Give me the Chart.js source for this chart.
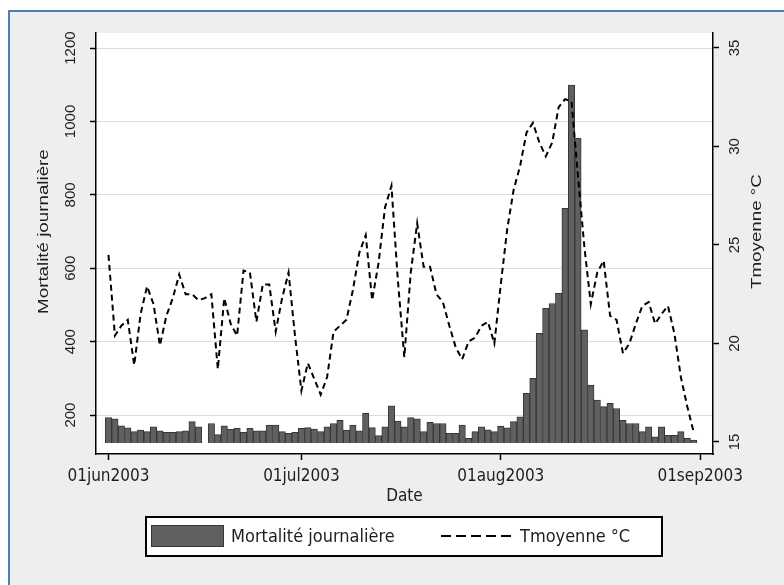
<!DOCTYPE html>
<html>
<head>
<meta charset="utf-8">
<script src="https://cdn.jsdelivr.net/npm/chart.js@4.4.1/dist/chart.umd.min.js"></script>
<style>
  html, body { margin: 0; padding: 0; background: #fff; overflow: hidden; }
  #frame {
    position: absolute; left: 8px; top: 10px; width: 774px; height: 573px;
    background: #eceef0; border-left: 2px solid #4f80b2; border-top: 2px solid #4f80b2;
  }
  #wrap { position: absolute; left: 0; top: 0; width: 784px; height: 585px; }
</style>
</head>
<body>
<div id="frame"></div>
<div id="wrap"><canvas id="chart" width="784" height="585"></canvas></div>
<script>
// daily deaths, 01jun2003 .. 31aug2003 (day 15 missing)
const mortality = [
  193, 190, 171, 165, 155, 159, 155, 168, 157, 153,
  153, 155, 157, 182, 168, null, 177, 147, 171, 161,
  164, 153, 164, 157, 157, 173, 173, 155, 150, 153,
  164, 166, 162, 155, 168, 177, 186, 159, 173, 157,
  205, 166, 144, 168, 225, 184, 168, 193, 190, 155,
  180, 177, 177, 150, 150, 173, 137, 155, 168, 160,
  155, 170, 165, 182, 195, 259, 300, 423, 491, 504,
  532, 763, 1099, 954, 432, 282, 241, 223, 232, 218,
  186, 177, 177, 155, 168, 141, 168, 145, 145, 155,
  137, 132
];
// mean daily temperature (°C)
const tempMean = [
  24.5, 20.4, 20.9, 21.2, 18.9, 21.5, 22.9, 22.0, 19.9, 21.4,
  22.3, 23.5, 22.5, 22.5, 22.2, 22.3, 22.5, 18.7, 22.3, 21.0,
  20.4, 23.7, 23.6, 21.1, 23.0, 23.0, 20.6, 22.3, 23.6, 20.4,
  17.6, 19.0, 18.2, 17.4, 18.3, 20.6, 20.9, 21.2, 22.7, 24.6,
  25.5, 22.2, 24.1, 26.9, 28.0, 23.2, 19.3, 23.6, 26.1, 23.9,
  23.9, 22.5, 22.1, 20.9, 19.8, 19.2, 20.1, 20.3, 20.9, 21.1,
  20.0, 23.0, 25.8, 27.8, 29.0, 30.7, 31.2, 30.2, 29.5, 30.2,
  32.0, 32.4, 32.3, 28.5, 24.9, 22.0, 23.6, 24.2, 21.4, 21.2,
  19.5, 20.0, 21.0, 21.9, 22.1, 21.0, 21.5, 21.9, 20.5, 18.3,
  16.8, 15.5
];
const dateTickDays = [0, 30, 61, 92];
const dateTickLabels = ['01jun2003', '01jul2003', '01aug2003', '01sep2003'];
const mortTicks = [200, 400, 600, 800, 1000, 1200];
const tempTicks = [15, 20, 25, 30, 35];

const condensed = "'DejaVu Sans Condensed', 'Liberation Sans Narrow', sans-serif";
const arial = "'Liberation Sans', Arial, sans-serif";
const ink = '#1e1e1e';

// draws the stata-like bits: white plot region, rotated labels, titles, legend box
const stataDecor = {
  id: 'stataDecor',
  beforeDraw(chart) {
    const { ctx, chartArea: a } = chart;
    ctx.save();
    ctx.fillStyle = '#fff';
    ctx.fillRect(a.left, a.top, a.right - a.left, a.bottom - a.top);
    ctx.restore();
  },
  afterDraw(chart) {
    const { ctx, chartArea: a } = chart;
    const yL = chart.scales.y, yR = chart.scales.yT;
    ctx.save();
    ctx.fillStyle = ink;
    ctx.textAlign = 'center';
    ctx.textBaseline = 'middle';

    const vtext = (txt, x, y, stretch) => {
      ctx.save();
      ctx.translate(x, y);
      ctx.rotate(-Math.PI / 2);
      ctx.scale(stretch, 1);
      ctx.fillText(txt, 0, 0);
      ctx.restore();
    };

    ctx.font = '15px ' + arial;
    mortTicks.forEach(v => vtext(String(v), 71, yL.getPixelForValue(v), 1));
    tempTicks.forEach(v => vtext(String(v), 735, yR.getPixelForValue(v), 1));

    const mid = (yL.getPixelForValue(200) + yL.getPixelForValue(1200)) / 2;
    vtext('Mortalité journalière', 44, mid, 1.25);
    vtext('Tmoyenne °C', 757, mid, 1.25);

    ctx.font = '17px ' + condensed;
    ctx.fillText('Date', (a.left + a.right) / 2, 497);

    // legend
    const ds = chart.data.datasets;
    ctx.fillStyle = '#fff';
    ctx.fillRect(146, 517, 516, 39);
    ctx.strokeStyle = '#000';
    ctx.lineWidth = 2;
    ctx.strokeRect(146, 517, 516, 39);

    ctx.fillStyle = ds[0].backgroundColor;
    ctx.fillRect(151, 525, 73, 22);
    ctx.strokeStyle = ds[0].borderColor;
    ctx.lineWidth = 1;
    ctx.strokeRect(151.5, 525.5, 72, 21);

    ctx.strokeStyle = ds[1].borderColor;
    ctx.lineWidth = 2;
    ctx.setLineDash([10, 5]);
    ctx.beginPath();
    ctx.moveTo(441, 536);
    ctx.lineTo(513, 536);
    ctx.stroke();
    ctx.setLineDash([]);

    ctx.fillStyle = ink;
    ctx.textAlign = 'left';
    ctx.font = '18px ' + condensed;
    ctx.fillText(ds[0].label, 231, 537);
    ctx.fillText(ds[1].label, 520, 537);
    ctx.restore();
  }
};

new Chart(document.getElementById('chart'), {
  type: 'bar',
  data: {
    datasets: [
      {
        type: 'bar',
        label: 'Mortalité journalière',
        data: mortality.map((v, i) => ({ x: i, y: v })),
        yAxisID: 'y',
        base: 124,
        backgroundColor: '#606060',
        borderColor: '#363636',
        borderWidth: 1,
        barPercentage: 1,
        categoryPercentage: 1,
        order: 2
      },
      {
        type: 'line',
        label: 'Tmoyenne °C',
        data: tempMean.map((v, i) => ({ x: i, y: v })),
        yAxisID: 'yT',
        borderColor: '#000',
        borderWidth: 2,
        borderDash: [6, 4],
        pointRadius: 0,
        tension: 0,
        fill: false,
        order: 1
      }
    ]
  },
  options: {
    responsive: false,
    animation: false,
    layout: { padding: { top: 33, left: 0, right: 0, bottom: 0 } },
    plugins: { legend: { display: false }, tooltip: { enabled: false } },
    scales: {
      x: {
        type: 'linear',
        min: -1.94,
        max: 94.0,
        offset: false,
        afterBuildTicks: s => { s.ticks = dateTickDays.map(v => ({ value: v })); },
        afterFit: s => { s.height = 131; },
        ticks: {
          autoSkip: false,
          maxRotation: 0,
          padding: 6,
          color: ink,
          font: { family: condensed, size: 17 },
          callback: v => dateTickLabels[dateTickDays.indexOf(v)]
        },
        grid: { offset: false, drawOnChartArea: false, tickLength: 6, tickColor: '#000', tickWidth: 1.5 },
        border: { color: '#000', width: 1.5 }
      },
      y: {
        position: 'left',
        min: 94,
        max: 1241,
        afterBuildTicks: s => { s.ticks = mortTicks.map(v => ({ value: v })); },
        afterFit: s => { s.width = 96; },
        ticks: { display: false },
        grid: { color: '#e6d9d2', lineWidth: 1, tickLength: 6, tickColor: '#000', tickWidth: 1.5 },
        border: { color: '#000', width: 1.5 }
      },
      yT: {
        position: 'right',
        min: 14.39,
        max: 35.76,
        afterBuildTicks: s => { s.ticks = tempTicks.map(v => ({ value: v })); },
        afterFit: s => { s.width = 71; },
        ticks: { display: false },
        grid: { drawOnChartArea: false, tickLength: 6, tickColor: '#000', tickWidth: 1.5 },
        border: { color: '#000', width: 1.5 }
      }
    }
  },
  plugins: [stataDecor]
});
</script>
</body>
</html>
